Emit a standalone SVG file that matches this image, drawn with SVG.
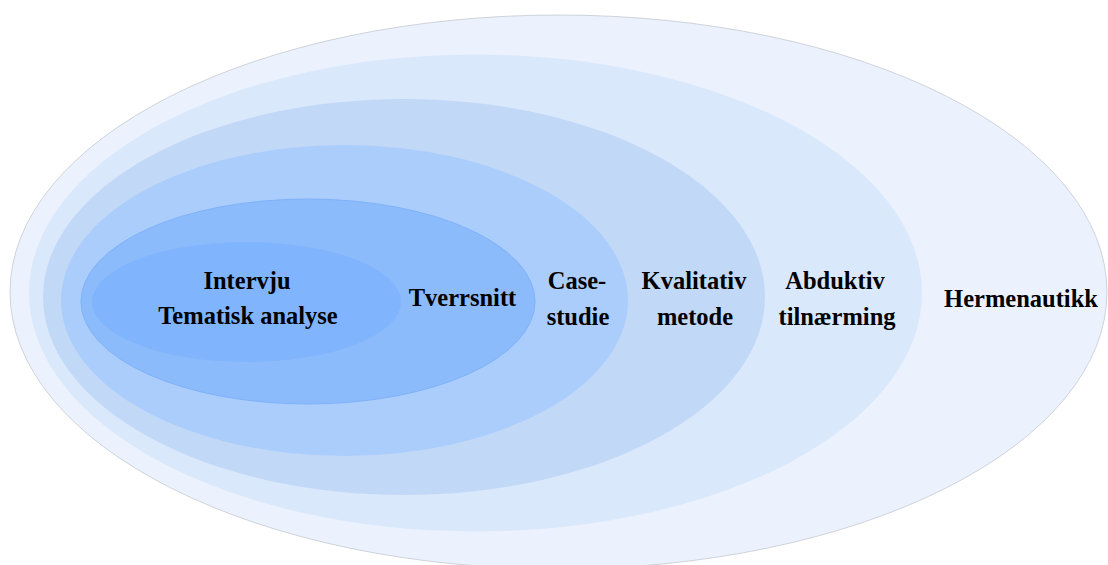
<svg xmlns="http://www.w3.org/2000/svg" width="1108" height="565" viewBox="0 0 1108 565">
  <style>
    .lbl { font-family: "Liberation Serif", "Times New Roman", serif; font-weight: bold; font-size: 24.5px; fill: #000; text-anchor: middle; }
  </style>
  <rect width="1108" height="565" fill="#ffffff"/>
  <!-- nested levels, outermost first -->
  <g id="hermenautikk">
    <ellipse cx="558.5" cy="292" rx="548.5" ry="277" fill="#EBF2FD" stroke="#C4C9D1" stroke-width="0.8"/>
    <text class="lbl" x="1021" y="307">Hermenautikk</text>
  </g>
  <g id="abduktiv">
    <ellipse cx="475.5" cy="293" rx="446.5" ry="238.5" fill="#DAE8FC"/>
    <text class="lbl" x="835" y="289">Abduktiv</text>
    <text class="lbl" x="837" y="325">tilnærming</text>
  </g>
  <g id="kvalitativ">
    <ellipse cx="404" cy="297" rx="361" ry="198" fill="#C1D8F6"/>
    <text class="lbl" x="694" y="289">Kvalitativ</text>
    <text class="lbl" x="695" y="325">metode</text>
  </g>
  <g id="casestudie">
    <ellipse cx="344.5" cy="300.5" rx="283.5" ry="155.5" fill="#ABCDFC"/>
    <text class="lbl" x="577" y="289">Case-</text>
    <text class="lbl" x="578" y="325">studie</text>
  </g>
  <g id="tverrsnitt">
    <ellipse cx="308" cy="301.5" rx="227" ry="102.5" fill="#8CBBFC" stroke="#7FB2F9" stroke-width="1"/>
    <text class="lbl" x="462.5" y="306">Tverrsnitt</text>
  </g>
  <g id="intervju">
    <ellipse cx="246.5" cy="302" rx="154.5" ry="60" fill="#80B4FC"/>
    <text class="lbl" x="247" y="289">Intervju</text>
    <text class="lbl" x="248" y="324">Tematisk analyse</text>
  </g>
  <g id="connectors"/>
</svg>
